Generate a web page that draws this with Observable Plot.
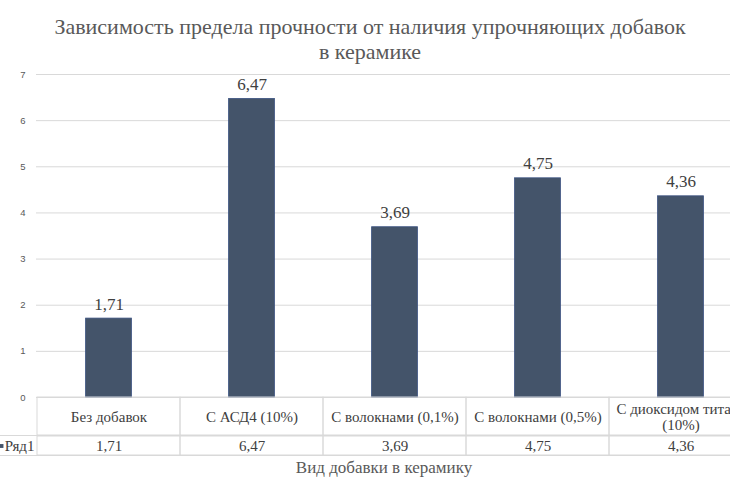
<!DOCTYPE html>
<html>
<head>
<meta charset="utf-8">
<script src="https://cdn.jsdelivr.net/npm/d3@7"></script>
<script src="https://cdn.jsdelivr.net/npm/@observablehq/plot@0.6"></script>
<style>
  html, body { margin: 0; padding: 0; background: #fff; overflow: hidden; }
  #wrap { width: 730px; height: 486px; overflow: hidden; position: relative; }
  svg { display: block; max-width: none !important; }
  .serif, #title, #xtitle { font-family: "Liberation Serif", "Times New Roman", Tinos, "DejaVu Serif", serif; }
  #title { height: 64px; box-sizing: border-box; padding-top: 14px; padding-left: 10px; text-align: center;
           font-size: 22px; line-height: 25px; color: #595959; }
  #row2 { border-top: 1px solid #d9d9d9; border-bottom: 1px solid #d9d9d9; box-sizing: border-box; height: 21px; width: 730px; overflow: hidden; }
  #xtitle { height: 26px; line-height: 24px; text-align: center; width: 768px;
            font-size: 17px; color: #595959; }
</style>
</head>
<body>
<div id="wrap">
  <div id="title">Зависимость предела прочности от наличия упрочняющих добавок<br>в керамике</div>
  <div id="plot"></div>
  <div id="row1"></div>
  <div id="row2"></div>
  <div id="xtitle">Вид добавки в керамику</div>
</div>
<script>
const categories = ["Без добавок", "С АСД4 (10%)", "С волокнами (0,1%)", "С волокнами (0,5%)", "С диоксидом титана\n(10%)"];
const values = [1.71, 6.47, 3.69, 4.75, 4.36];
const yTicks = [0, 1, 2, 3, 4, 5, 6, 7];
const seriesName = "Ряд1";

const data = categories.map((c, i) => ({cat: c, value: values[i]}));
const fmt = v => v.toFixed(2).replace(".", ",");

const W = 752, ML = 36;
const barFill = "#44546A";
const SERIF = "'Liberation Serif', 'Times New Roman', Tinos, 'DejaVu Serif', serif";
const xScale = {type: "band", domain: categories, padding: 0, axis: null};

const main = Plot.plot({
  width: W, height: 333, marginTop: 10, marginBottom: 0, marginLeft: ML, marginRight: 0,
  style: {fontFamily: "'Liberation Sans', Arial, sans-serif", fontSize: "9.5px", color: "#595959", background: "transparent", overflow: "visible", maxWidth: "none"},
  x: xScale,
  y: {domain: [0, 7], ticks: yTicks, tickFormat: d => String(d), tickSize: 0, tickPadding: 11, label: null},
  marks: [
    Plot.ruleY(yTicks, {stroke: "#d9d9d9"}),
    Plot.barY(data, {x: "cat", y: "value", fill: barFill, stroke: "#3a5180", strokeWidth: 0.8, insetLeft: 48.6, insetRight: 48.6}),
    Plot.text(data, {x: "cat", y: "value", text: d => fmt(d.value), lineAnchor: "bottom", dy: -9,
      fontFamily: SERIF, fontSize: 17, fill: "#404040"})
  ]
});
document.getElementById("plot").appendChild(main);

const tableStyle = {fontFamily: SERIF, fontSize: "15px", color: "#404040", background: "transparent", overflow: "visible", maxWidth: "none"};

const row1 = Plot.plot({
  width: W, height: 38, margin: 0, marginLeft: ML,
  style: tableStyle,
  x: xScale,
  marks: [
    Plot.cell(data, {x: "cat", fill: "none", stroke: "#d9d9d9", inset: 0}),
    Plot.text(data, {x: "cat", text: "cat", fill: "#404040", lineHeight: 1.1, fontFamily: SERIF, fontSize: 15})
  ]
});
document.getElementById("row1").appendChild(row1);

const row2 = Plot.plot({
  width: W, height: 19, margin: 0, marginLeft: ML,
  style: tableStyle,
  x: xScale,
  marks: [
    Plot.cell(data, {x: "cat", fill: "none", stroke: "#d9d9d9", inset: 0}),
    Plot.text(data, {x: "cat", text: d => fmt(d.value), fill: "#404040", fontFamily: SERIF, fontSize: 15}),
    Plot.text([seriesName], {text: d => d, frameAnchor: "left", textAnchor: "end", dx: -2, fill: "#404040", fontFamily: SERIF, fontSize: 15}),
    Plot.dot([seriesName], {frameAnchor: "left", dx: -35, symbol: "square", r: 2.2, fill: barFill})
  ]
});
document.getElementById("row2").appendChild(row2);
</script>
</body>
</html>
